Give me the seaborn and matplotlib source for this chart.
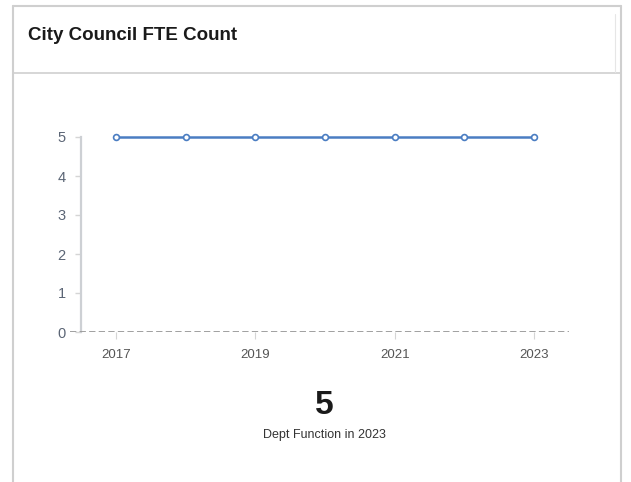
import matplotlib
matplotlib.use("Agg")
import matplotlib.pyplot as plt
from matplotlib.lines import Line2D
import seaborn as sns
import pandas as pd

years = [2017, 2018, 2019, 2020, 2021, 2022, 2023]
fte_count = [5, 5, 5, 5, 5, 5, 5]
x_tick_years = [2017, 2019, 2021, 2023]
y_ticks = [0, 1, 2, 3, 4, 5]
title_text = "City Council FTE Count"
kpi_label = "Dept Function in 2023"

df = pd.DataFrame({"year": years, "fte": fte_count})

sns.set_theme(style="white")
plt.rcParams["font.family"] = ["Liberation Sans", "DejaVu Sans"]

W, H = 631, 482
fig = plt.figure(figsize=(W / 100, H / 100), dpi=100)
fig.patch.set_facecolor("white")

def px(x, y):
    return x / W, 1 - y / H

# card frame
border = "#cfcfcf"
for (x0, y0), (x1, y1), lw in [((13, 6), (621, 6), 1.5),
                                ((13, 6), (13, 482), 1.5),
                                ((621, 6), (621, 482), 1.5),
                                ((13, 73), (621, 73), 1.2)]:
    a, b = px(x0, y0)
    c, d = px(x1, y1)
    fig.add_artist(Line2D([a, c], [b, d], color=border, lw=lw))
# faint inner edge of the header box
a, b = px(615, 14)
c, d = px(615, 72)
fig.add_artist(Line2D([a, c], [b, d], color="#e6e6e6", lw=0.8))

fig.text(28 / W, 1 - 35 / H, title_text, fontsize=13.5, fontweight="bold",
         color="#1a1a1a", va="center", ha="left")

# chart area
left, right = 70, 569
top, bottom = 137, 332
ax = fig.add_axes([left / W, 1 - bottom / H, (right - left) / W, (bottom - top) / H])
line_color = "#4a7dc2"
sns.lineplot(data=df, x="year", y="fte", ax=ax, color=line_color, linewidth=1.8,
             marker="o", markersize=4.2, markerfacecolor="white",
             markeredgecolor=line_color, markeredgewidth=1.2, clip_on=False,
             zorder=5)

ax.set_xlim(2016.34, 2023.5)
ax.set_ylim(0, 5)
ax.set_xlabel("")
ax.set_ylabel("")

for s in ["top", "right", "bottom"]:
    ax.spines[s].set_visible(False)
ax.spines["left"].set_position(("data", 2016.5))
ax.spines["left"].set_color("#cdd0d4")
ax.spines["left"].set_linewidth(1.6)

ax.axhline(0, color="#999999", lw=1.3, ls=(0, (3.5, 1.8)), zorder=3)

ax.set_yticks(y_ticks)
ax.set_xticks(x_tick_years)
ax.set_xticklabels([str(y) for y in x_tick_years])
ax.tick_params(axis="y", length=4, width=1, color="#d5d5d5", labelsize=10.5,
               labelcolor="#5b6575", pad=7, left=True)
ax.tick_params(axis="x", length=5, width=0.8, color="#d5d5d5", labelsize=9.5,
               labelcolor="#555555", pad=7, bottom=True, direction="out")
ax.grid(False)

# KPI
fig.text(324 / W, 1 - 405 / H, str(fte_count[-1]), fontsize=24, fontweight="bold",
         color="#1a1a1a", ha="center", va="center")
fig.text(324 / W, 1 - 435 / H, kpi_label, fontsize=9, color="#333333",
         ha="center", va="center")

fig.savefig("out.png", dpi=100, facecolor="white")
